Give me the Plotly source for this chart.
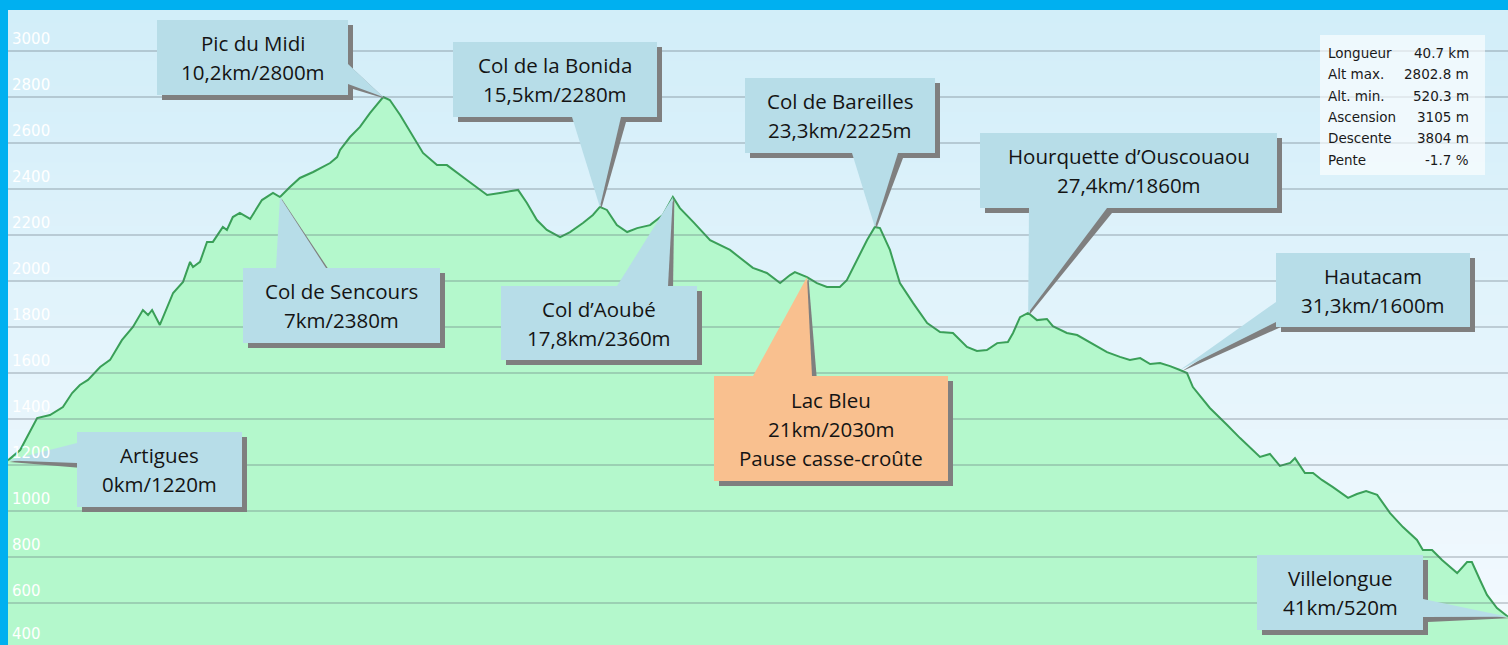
import numpy as np
import plotly.graph_objects as go

# ---------------- data ----------------
km = [0.00, 0.33, 0.79, 1.14, 1.49, 1.74, 1.95, 2.17, 2.50, 2.77,
      3.09, 3.39, 3.66, 3.80, 3.91, 4.12, 4.48, 4.75, 4.94, 5.02,
      5.21, 5.40, 5.56, 5.83, 5.94, 6.10, 6.29, 6.57, 6.89, 7.19,
      7.38, 7.65, 7.92, 8.28, 8.74, 8.93, 9.01, 9.28, 9.55, 9.82,
      10.18, 10.36, 10.64, 10.99, 11.26, 11.64, 11.91, 12.45, 13.00, 13.35,
      13.84, 14.08, 14.35, 14.62, 14.98, 15.25, 15.60, 15.87, 16.06, 16.25,
      16.52, 16.80, 17.07, 17.42, 17.77, 18.04, 18.23, 18.59, 19.05, 19.59,
      19.94, 20.21, 20.59, 20.95, 21.22, 21.35, 21.68, 21.95, 22.22, 22.57,
      22.76, 23.04, 23.31, 23.52, 23.66, 23.93, 24.20, 24.56, 24.94, 25.29,
      25.64, 26.02, 26.29, 26.56, 26.84, 27.13, 27.27, 27.46, 27.68, 27.92,
      28.19, 28.35, 28.73, 29.01, 29.44, 29.82, 30.17, 30.44, 30.72, 30.99,
      31.26, 31.53, 31.80, 31.99, 32.15, 32.61, 33.08, 33.43, 33.97, 34.24,
      34.51, 34.79, 34.92, 35.19, 35.41, 35.65, 35.95, 36.36, 36.60, 36.85,
      37.15, 37.31, 37.50, 37.85, 38.23, 38.39, 38.64, 38.91, 39.32, 39.59,
      39.72, 39.94, 40.13, 40.40, 40.70]
elevation = [1220, 1265, 1404, 1417, 1452, 1513, 1548, 1570, 1626, 1657,
             1743, 1800, 1874, 1852, 1874, 1809, 1948, 1996, 2083, 2061,
             2083, 2170, 2170, 2235, 2222, 2278, 2296, 2270, 2352, 2383,
             2365, 2409, 2448, 2474, 2513, 2539, 2570, 2626, 2670, 2730,
             2800, 2787, 2722, 2626, 2557, 2504, 2504, 2439, 2374, 2383,
             2396, 2339, 2265, 2222, 2191, 2213, 2252, 2287, 2322, 2309,
             2243, 2213, 2230, 2243, 2287, 2365, 2317, 2257, 2178, 2135,
             2091, 2057, 2035, 1991, 2026, 2039, 2017, 1991, 1974, 1974,
             2004, 2091, 2178, 2235, 2230, 2135, 1991, 1904, 1817, 1778,
             1774, 1713, 1696, 1700, 1730, 1735, 1774, 1843, 1861, 1830,
             1835, 1804, 1774, 1765, 1726, 1691, 1670, 1657, 1665, 1639,
             1643, 1630, 1613, 1600, 1539, 1448, 1374, 1317, 1235, 1248,
             1196, 1209, 1230, 1165, 1165, 1135, 1104, 1057, 1074, 1087,
             1070, 1035, 991, 930, 874, 830, 830, 787, 730, 778,
             778, 700, 635, 578, 540]

tick_values = [400, 600, 800, 1000, 1200, 1400, 1600, 1800, 2000,
               2200, 2400, 2600, 2800, 3000]

callout_lines = [
    ["Pic du Midi", "10,2km/2800m"],
    ["Col de la Bonida", "15,5km/2280m"],
    ["Col de Bareilles", "23,3km/2225m"],
    ["Col de Sencours", "7km/2380m"],
    ["Col d\u2019Aoub\u00e9", "17,8km/2360m"],
    ["Lac Bleu", "21km/2030m", "Pause casse-cro\u00fbte"],
    ["Hourquette d\u2019Ouscouaou", "27,4km/1860m"],
    ["Hautacam", "31,3km/1600m"],
    ["Artigues", "0km/1220m"],
    ["Villelongue", "41km/520m"],
]
callout_tip_km = [10.18, 16.06, 23.52, 7.38, 18.04, 21.68, 27.68, 31.80, 0.00, 40.70]

stats_labels = ["Longueur", "Alt max.", "Alt. min.", "Ascension", "Descente", "Pente"]
stats_values = ["40.7 km", "2802.8 m", "520.3 m", "3105 m", "3804 m", "-1.7 %"]

# ---------------- layout geometry (pixels) ----------------
W, H = 1508, 645
ML, MT = 8, 10
PW, PH = W - ML, H - MT
X_RANGE = [0.0, 40.7]
Y_RANGE = [417.4, 3178.3]


def dx(px):
    return X_RANGE[0] + (px - ML) / PW * (X_RANGE[1] - X_RANGE[0])


def dy(py):
    return Y_RANGE[1] - (py - MT) / PH * (Y_RANGE[1] - Y_RANGE[0])


def to_px(x, y):
    return (ML + (x - X_RANGE[0]) / (X_RANGE[1] - X_RANGE[0]) * PW,
            MT + (Y_RANGE[1] - y) / (Y_RANGE[1] - Y_RANGE[0]) * PH)


# box (l, t, r, b), wedge base points, fill colour
callout_geom = [
    ((157, 20, 348, 95), ((348, 64), (348, 84)), "#b7dde8"),
    ((453, 42, 657, 117), ((572, 117), (621, 117)), "#b7dde8"),
    ((745, 78, 935, 153), ((852, 153), (898, 153)), "#b7dde8"),
    ((243, 268, 440, 343), ((276, 268), (326, 268)), "#b7dde8"),
    ((501, 286, 697, 360), ((617, 286), (668, 286)), "#b7dde8"),
    ((714, 376, 948, 481), ((753, 376), (812, 376)), "#f9c08f"),
    ((980, 133, 1277, 208), ((1029, 208), (1107, 208)), "#b7dde8"),
    ((1276, 253, 1470, 327), ((1276, 302), (1276, 322)), "#b7dde8"),
    ((77, 432, 242, 507), ((77, 443), (77, 463)), "#b7dde8"),
    ((1257, 555, 1423, 630), ((1423, 599), (1423, 617)), "#b7dde8"),
]

SHADOW = "#7f7f7f"
OFF = 5

shapes = []

# background gradient bands
top_c = np.array([210, 238, 249])
bot_c = np.array([244, 250, 255])
nb = 50
for i in range(nb):
    t = (i + 0.5) / nb
    c = top_c + (bot_c - top_c) * t
    shapes.append(dict(type="rect", xref="paper", yref="paper", layer="below",
                       x0=0, x1=1, y0=1 - (i + 1) / nb - 0.002, y1=1 - i / nb,
                       fillcolor=f"rgb({int(c[0])},{int(c[1])},{int(c[2])})",
                       line=dict(width=0)))

# grid lines (above the fill)
for v in tick_values:
    shapes.append(dict(type="line", xref="paper", yref="y", layer="above",
                       x0=0, x1=1, y0=v, y1=v,
                       line=dict(color="rgba(90,100,110,0.27)", width=2)))


def path(points):
    return "M " + " L ".join(f"{dx(px):.5f},{dy(py):.3f}" for px, py in points) + " Z"


annotations = []
for lines, tip_km, (box, base, col) in zip(callout_lines, callout_tip_km, callout_geom):
    l, t, r, b = box
    tip_e = float(np.interp(tip_km, km, elevation))
    tpx, tpy = to_px(tip_km, tip_e)
    # shadow
    shapes.append(dict(type="path", xref="x", yref="y", layer="above",
                       path=path([(l + OFF, t + OFF), (r + OFF, t + OFF), (r + OFF, b + OFF), (l + OFF, b + OFF)]),
                       fillcolor=SHADOW, line=dict(width=0)))
    shapes.append(dict(type="path", xref="x", yref="y", layer="above",
                       path=path([(base[0][0] + OFF, base[0][1] + OFF), (base[1][0] + OFF, base[1][1] + OFF),
                                  (tpx + 1.5, tpy + 1.5)]),
                       fillcolor=SHADOW, line=dict(width=0)))
    # box + wedge
    shapes.append(dict(type="path", xref="x", yref="y", layer="above",
                       path=path([(l, t), (r, t), (r, b), (l, b)]),
                       fillcolor=col, line=dict(width=0)))
    shapes.append(dict(type="path", xref="x", yref="y", layer="above",
                       path=path([base[0], base[1], (tpx, tpy)]),
                       fillcolor=col, line=dict(width=0)))
    cx = (l + r) / 2
    cy = (t + b) / 2
    n = len(lines)
    for k, txt in enumerate(lines):
        ly = cy + (k - (n - 1) / 2) * 29
        annotations.append(dict(x=dx(cx), y=dy(ly), xref="x", yref="y", text=txt,
                                showarrow=False, xanchor="center", yanchor="middle",
                                font=dict(family="Open Sans", size=20.5, color="#141414")))

# stats box
shapes.append(dict(type="rect", xref="x", yref="y", layer="above",
                   x0=dx(1320), x1=dx(1485), y0=dy(175), y1=dy(35),
                   fillcolor="rgba(255,255,255,0.62)", line=dict(width=0)))
for k, (lab, val) in enumerate(zip(stats_labels, stats_values)):
    yy = dy(53 + k * 21.3)
    annotations.append(dict(x=dx(1326), y=yy, xref="x", yref="y", text=lab, showarrow=False,
                            xanchor="left", yanchor="middle",
                            font=dict(family="DejaVu Sans", size=13.5, color="#1a1a1a")))
    annotations.append(dict(x=dx(1471), y=yy, xref="x", yref="y", text=val, showarrow=False,
                            xanchor="right", yanchor="middle",
                            font=dict(family="DejaVu Sans", size=13.5, color="#1a1a1a")))

# y tick labels (white, above each grid line)
m_per_px = (Y_RANGE[1] - Y_RANGE[0]) / PH
for v in tick_values:
    lift = 12.5 if v > 400 else 15.5
    annotations.append(dict(x=0, xref="paper", y=v + lift * m_per_px, yref="y",
                            text=str(v), showarrow=False, xanchor="left", yanchor="middle",
                            xshift=2,
                            font=dict(family="DejaVu Sans", size=15, color="white")))

fig = go.Figure()
fig.add_trace(go.Scatter(x=km, y=elevation, mode="lines", fill="tozeroy",
                         fillcolor="#b4f8cc", line=dict(color="#3a9f58", width=2),
                         hoverinfo="skip"))

fig.update_layout(
    width=W, height=H, autosize=False,
    margin=dict(l=ML, r=0, t=MT, b=0, pad=0),
    paper_bgcolor="#00b0f0",
    plot_bgcolor="#e6f5fc",
    showlegend=False,
    shapes=shapes,
    annotations=annotations,
    xaxis=dict(range=X_RANGE, visible=False, showgrid=False, zeroline=False, fixedrange=True),
    yaxis=dict(range=Y_RANGE, showgrid=False, zeroline=False, showticklabels=False,
               ticks="", fixedrange=True),
)

fig.write_html("out.html", config={"displayModeBar": False},
               post_script="document.body.style.margin='0px';document.body.style.overflow='hidden';")
